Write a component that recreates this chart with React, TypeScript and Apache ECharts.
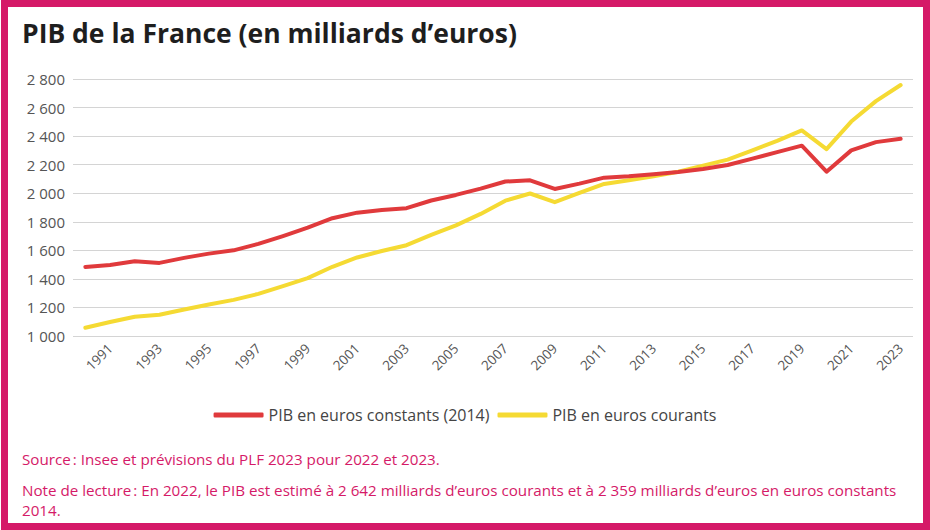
import React, { useEffect, useRef } from "react";
import * as echarts from "echarts";

const years = Array.from({ length: 34 }, (_, i) => String(1990 + i));
const constants2014 = [
  1484, 1498, 1523, 1512, 1547, 1577, 1600, 1645, 1700, 1759, 1825, 1864, 1883, 1895,
  1949, 1988, 2032, 2082, 2090, 2030, 2067, 2109, 2119, 2133, 2149, 2170, 2198, 2242,
  2288, 2333, 2151, 2300, 2358, 2381,
];
const courants = [
  1058, 1098, 1135, 1149, 1186, 1221, 1253, 1295, 1349, 1405, 1485, 1550, 1595, 1636,
  1708, 1775, 1855, 1948, 1998, 1937, 2002, 2065, 2091, 2119, 2151, 2193, 2235, 2300,
  2367, 2440, 2309, 2502, 2645, 2758,
];
const seriesNames = ["PIB en euros constants (2014)", "PIB en euros courants"];
const titleText = "PIB de la France (en milliards d\u2019euros)";
const sourceText = "Source\u202f: Insee et pr\u00e9visions du PLF 2023 pour 2022 et 2023.";
const noteText =
  "Note de lecture\u202f: En 2022, le PIB est estim\u00e9 \u00e0 2 642 milliards d\u2019euros courants et \u00e0 2 359 milliards d\u2019euros en euros constants\n2014.";

const PINK = "#d51a68";
const RED = "#e03a3c";
const YELLOW = "#f5da33";
const FONT = "'Open Sans', 'Noto Sans', sans-serif";

export default function App() {
  const ref = useRef<HTMLDivElement>(null);
  useEffect(() => {
    document.body.style.margin = "0";
    const chart = echarts.init(ref.current!, null, { renderer: "svg" });
    chart.setOption({
      animation: false,
      backgroundColor: "#ffffff",
      grid: { left: 73, right: 17, top: 79, bottom: 194, containLabel: false },
      legend: {
        data: seriesNames,
        top: 402,
        left: "center",
        icon: "roundRect",
        itemWidth: 50,
        itemHeight: 5,
        itemGap: 8,
        textStyle: { fontFamily: FONT, fontSize: 16, color: "#444" },
      },
      xAxis: {
        type: "category",
        data: years,
        boundaryGap: true,
        axisLine: { show: false },
        axisTick: { show: false },
        axisLabel: {
          interval: (index: number) => index % 2 === 1,
          rotate: 45,
          margin: 10,
          fontFamily: FONT,
          fontSize: 13.5,
          color: "#555",
        },
      },
      yAxis: {
        type: "value",
        min: 1000,
        max: 2800,
        interval: 200,
        axisLine: { show: false },
        axisTick: { show: false },
        splitLine: { lineStyle: { color: "#d4d4d4", width: 1.2 } },
        axisLabel: {
          margin: 8,
          fontFamily: FONT,
          fontSize: 15,
          color: "#555",
          formatter: (v: number) => {
            const s = String(v);
            return s.length > 3 ? s.slice(0, s.length - 3) + " " + s.slice(-3) : s;
          },
        },
      },
      series: [
        {
          name: seriesNames[0],
          type: "line",
          data: constants2014,
          showSymbol: false,
          symbol: "none",
          itemStyle: { color: RED },
          lineStyle: { color: RED, width: 4, join: "round", cap: "round" },
          z: 3,
        },
        {
          name: seriesNames[1],
          type: "line",
          data: courants,
          showSymbol: false,
          symbol: "none",
          itemStyle: { color: YELLOW },
          lineStyle: { color: YELLOW, width: 4, join: "round", cap: "round" },
          z: 2,
        },
      ],
      graphic: [
        {
          type: "text",
          left: 22,
          top: 19,
          style: {
            text: titleText,
            fontFamily: FONT,
            fontWeight: "bold",
            fontSize: 26.5,
            fill: "#1e1e1e",
          },
        },
        {
          type: "text",
          left: 22,
          top: 451,
          style: { text: sourceText, fontFamily: FONT, fontSize: 15.2, fill: PINK },
        },
        {
          type: "text",
          left: 22,
          top: 480,
          style: { text: noteText, fontFamily: FONT, fontSize: 15.2, lineHeight: 20, fill: PINK },
        },
      ],
    });
    return () => chart.dispose();
  }, []);
  return (
    <div style={{ position: "relative", width: 930, height: 530 }}>
      <div ref={ref} style={{ position: "absolute", left: 0, top: 0, width: 930, height: 530 }} />
      <div
        style={{
          position: "absolute",
          left: 1,
          top: 0,
          width: 929,
          height: 530,
          boxSizing: "border-box",
          border: `7px solid ${PINK}`,
          pointerEvents: "none",
        }}
      />
    </div>
  );
}
